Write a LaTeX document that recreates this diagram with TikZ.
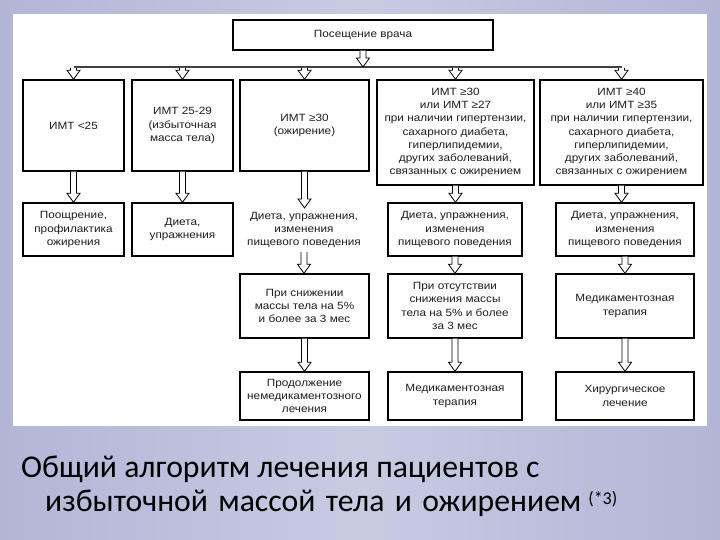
\documentclass[tikz,border=0pt]{standalone}
\usepackage{fontspec}
\setmainfont{Liberation Sans}
\newfontfamily\boxfont[FakeStretch=1.12]{Liberation Sans}
\newfontfamily\capfont{Carlito}
\usetikzlibrary{calc}
\definecolor{bgA}{RGB}{178,181,214}
\definecolor{bgB}{RGB}{200,203,226}
\definecolor{inkc}{RGB}{30,30,30}
\tikzset{
  box/.style={draw=black, line width=1.4pt, fill=white, align=center, inner sep=0pt,
    text=inkc, font=\boxfont\fontsize{10.5}{13.2}\selectfont},
  plain/.style={align=center, inner sep=0pt, inner ysep=4pt, text=inkc,
    font=\boxfont\fontsize{10.5}{13.2}\selectfont},
  harrow/.style={draw=black, line width=0.8pt, fill=white, line join=miter,
    to path={let \p1=(\tikztostart), \p2=(\tikztotarget) in
      (\x1-3pt,\y1) -- (\x1-3pt,\y2+9pt) -- (\x1-6.5pt,\y2+9pt) -- (\x1,\y2)
      -- (\x1+6.5pt,\y2+9pt) -- (\x1+3pt,\y2+9pt) -- (\x1+3pt,\y1)}},
  captxt/.style={anchor=base west, inner sep=0pt, text=black,
    font=\capfont\fontsize{31.7}{35}\selectfont}
}
\begin{document}
\begin{tikzpicture}[x=1pt,y=-1pt]
\useasboundingbox (0,0) rectangle (720,540);
% background
\shade[left color=bgA, right color=bgA, middle color=bgB] (0,0) rectangle (720,540);
\fill[white] (13,14) rectangle (707,426);
% top node
\node[box, minimum width=260pt, minimum height=30pt] (top) at (363,35) {Посещение врача};
% row 1
\node[box, minimum width=101pt, minimum height=91pt] (a1) at (73.5,125.5) {ИМТ <25};
\node[box, minimum width=101pt, minimum height=91pt] (a2) at (182.5,125.5) {ИМТ 25-29\\(избыточная\\масса тела)};
\node[box, minimum width=129pt, minimum height=91pt] (a3) at (304.5,125.5) {ИМТ ≥30\\(ожирение)};
\node[box, minimum width=157pt, minimum height=105pt] (a4) at (455.5,132.5) {ИМТ ≥30\\или ИМТ ≥27\\при наличии гипертензии,\\сахарного диабета,\\гиперлипидемии,\\других заболеваний,\\связанных с ожирением};
\node[box, minimum width=163pt, minimum height=105pt] (a5) at (621.5,132.5) {ИМТ ≥40\\или ИМТ ≥35\\при наличии гипертензии,\\сахарного диабета,\\гиперлипидемии,\\других заболеваний,\\связанных с ожирением};
% row 2
\node[box, minimum width=101pt, minimum height=53pt] (b1) at (73.5,229.5) {Поощрение,\\профилактика\\ожирения};
\node[box, minimum width=101pt, minimum height=53pt] (b2) at (182.5,229.5) {Диета,\\упражнения};
\node[plain] (b3) at (304,230) {Диета, упражнения,\\изменения\\пищевого поведения};
\node[box, minimum width=134pt, minimum height=53pt] (b4) at (455,229.5) {Диета, упражнения,\\изменения\\пищевого поведения};
\node[box, minimum width=138pt, minimum height=53pt] (b5) at (625,229.5) {Диета, упражнения,\\изменения\\пищевого поведения};
% row 3
\node[box, minimum width=129pt, minimum height=64pt] (c3) at (304.5,306) {При снижении\\массы тела на 5\%\\и более за 3 мес};
\node[box, minimum width=134pt, minimum height=64pt] (c4) at (455,306) {При отсутствии\\снижения массы\\тела на 5\% и более\\за 3 мес};
\node[box, minimum width=138pt, minimum height=64pt] (c5) at (625,306) {Медикаментозная\\терапия};
% row 4
\node[box, minimum width=129pt, minimum height=48pt] (d3) at (304.5,396) {Продолжение\\немедикаментозного\\лечения};
\node[box, minimum width=134pt, minimum height=48pt] (d4) at (455,396) {Медикаментозная\\терапия};
\node[box, minimum width=138pt, minimum height=48pt] (d5) at (625,396) {Хирургическое\\лечение};
% bus
\coordinate (bus) at (362,67);
\coordinate (s1) at (73.5,68);
\coordinate (s2) at (182.5,68);
\coordinate (s3) at (304.5,68);
\coordinate (s4) at (455.5,68);
\coordinate (s5) at (621.5,68);
\draw[black!75, line width=2.2pt] (s1 |- bus) -- (s5 |- bus);
\draw[harrow] (top.south) to (bus);
\foreach \i in {1,...,5}{\draw[harrow] (s\i) to (a\i.north);}
% vertical arrows
\foreach \i in {1,...,5}{\draw[harrow] (a\i.south) to (b\i.north);}
\foreach \i in {3,4,5}{\draw[harrow] (b\i.south) to (c\i.north);}
\foreach \i in {3,4,5}{\draw[harrow] (c\i.south) to (d\i.north);}
% caption
\node[captxt] (cap1) at (21,477) {Общий алгоритм лечения пациентов с};
\node[captxt] (cap2) at (45,511) {избыточной\hspace{0.1em} массой\hspace{0.1em} тела\hspace{0.1em} и\hspace{0.1em} ожирением \raisebox{6.5pt}{\fontsize{18}{18}\selectfont (*3)}};
\end{tikzpicture}
\end{document}
